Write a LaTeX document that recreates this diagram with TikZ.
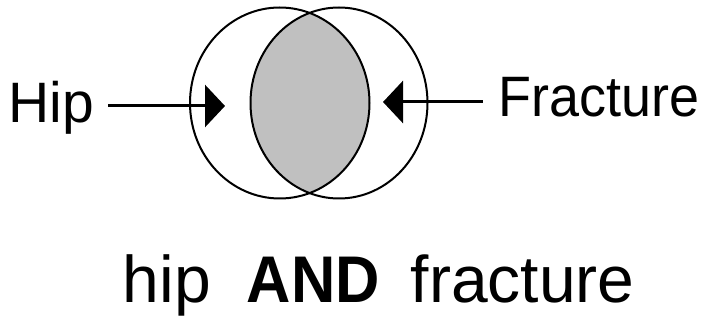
\documentclass[tikz,border=0pt]{standalone}
\usepackage{fontspec}
\setmainfont{Liberation Sans}
\usetikzlibrary{arrows.meta}
\definecolor{lensgray}{RGB}{192,192,192}
\begin{document}
\begin{tikzpicture}[x=1pt,y=-1pt,
  ring/.style={draw=black, line width=2pt},
  arr/.style={line width=3pt, -{Triangle[length=20pt,width=42pt]}},
  lbl/.style={inner sep=0pt, anchor=base west, font=\fontsize{57}{60}\selectfont},
  captext/.style={inner sep=0pt, anchor=base west, font=\fontsize{66}{70}\selectfont}]
\useasboundingbox (0,0) rectangle (705,320);
\begin{scope}
  \clip (279.75,103) ellipse [x radius=89.75, y radius=95.5];
  \fill[lensgray] (339,103) ellipse [x radius=88.5, y radius=95.5];
\end{scope}
\draw[ring] (279.75,103) ellipse [x radius=89.75, y radius=95.5];
\draw[ring] (339,103) ellipse [x radius=88.5, y radius=95.5];
\node[lbl] (hip) at (8.5,123) {Hip};
\node[lbl] (frac) at (498.7,117) {\scalebox{0.946}[1]{Fracture}};
\coordinate (hiptip) at (225,106);
\coordinate (fractip) at (383,102);
\draw[arr, shorten <=14pt] (hip.east |- hiptip) -- (hiptip);
\draw[arr, shorten <=16pt] (frac.west |- fractip) -- (fractip);
\node[captext] (caption) at (122.6,303) {hip\hspace{36pt}\scalebox{0.93}[1]{\textbf{AND}}\hspace{31pt}fracture};
\end{tikzpicture}
\end{document}
